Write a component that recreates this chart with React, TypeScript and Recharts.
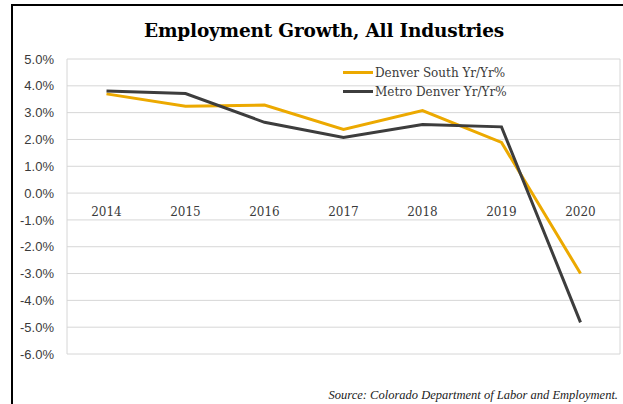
import { LineChart, Line, XAxis, YAxis, CartesianGrid } from "recharts";

const years = ["2014", "2015", "2016", "2017", "2018", "2019", "2020"];
const denverSouth = [3.7, 3.24, 3.28, 2.37, 3.08, 1.89, -3.0];
const metroDenver = [3.81, 3.71, 2.64, 2.07, 2.56, 2.47, -4.82];
const yTicks = [-6, -5, -4, -3, -2, -1, 0, 1, 2, 3, 4, 5];

const data = years.map((y, i) => ({
  year: y,
  south: denverSouth[i],
  metro: metroDenver[i],
}));

const W = 623;
const H = 404;
const X_AXIS_H = 30;
const M = { top: 59, right: 3, bottom: 50 - X_AXIS_H, left: 0 };
const Y_AXIS_W = 67;
const plotW = W - M.left - M.right - Y_AXIS_W;
const plotH = H - M.top - M.bottom - X_AXIS_H;
const zeroY = M.top + (5 / 11) * plotH;

const ORANGE = "#ECA900";
const DARK = "#3D3D3D";
const TEXT = "#3a3a3a";

const XTick = (props: any) => {
  const { x, payload } = props;
  return (
    <text
      x={x}
      y={zeroY + 23}
      textAnchor="middle"
      fontFamily="DejaVu Serif"
      fontSize={12}
      fill={TEXT}
    >
      {payload.value}
    </text>
  );
};

const legendItems = [
  { label: "Denver South Yr/Yr%", color: ORANGE },
  { label: "Metro Denver Yr/Yr%", color: DARK },
];

export default function App() {
  return (
    <div style={{ position: "absolute", left: 0, top: 0, width: W, height: H, background: "#fff", overflow: "hidden" }}>
      <div
        style={{
          position: "absolute",
          left: 11,
          top: 4,
          width: W,
          height: H,
          borderLeft: "2px solid #000",
          borderTop: "2px solid #000",
        }}
      />
      <div
        style={{
          position: "absolute",
          top: 20,
          left: 0,
          width: 648,
          textAlign: "center",
          fontFamily: "DejaVu Serif",
          fontWeight: "bold",
          fontSize: 18.5,
          color: "#000",
          letterSpacing: -0.2,
        }}
      >
        Employment Growth, All Industries
      </div>
      <LineChart width={W} height={H} data={data} margin={M} style={{ position: "absolute", left: 0, top: 0 }}>
        <CartesianGrid
          stroke="#d6d6d6"
          verticalCoordinatesGenerator={() => [Y_AXIS_W, Y_AXIS_W + plotW]}
        />
        <XAxis
          dataKey="year"
          axisLine={false}
          tickLine={false}
          height={X_AXIS_H}
          padding={{ left: plotW / 14, right: plotW / 14 }}
          tick={<XTick />}
          interval={0}
        />
        <YAxis
          width={Y_AXIS_W}
          domain={[-6, 5]}
          ticks={yTicks}
          axisLine={false}
          tickLine={false}
          tickSize={0}
          tickMargin={13}
          tickFormatter={(v: number) => `${v.toFixed(1)}%`}
          tick={{ fontFamily: "Liberation Sans", fontSize: 13, fill: TEXT }}
          allowDataOverflow
        />
        <Line type="linear" dataKey="south" stroke={ORANGE} strokeWidth={3} dot={false} isAnimationActive={false} />
        <Line type="linear" dataKey="metro" stroke={DARK} strokeWidth={3} dot={false} isAnimationActive={false} />
      </LineChart>
      <div style={{ position: "absolute", left: 343, top: 63 }}>
        {legendItems.map((it) => (
          <div key={it.label} style={{ display: "flex", alignItems: "center", height: 19 }}>
            <div style={{ width: 30, height: 3, background: it.color, marginRight: 2 }} />
            <span style={{ fontFamily: "DejaVu Serif", fontSize: 12, color: TEXT }}>{it.label}</span>
          </div>
        ))}
      </div>
      <div
        style={{
          position: "absolute",
          right: 5,
          top: 388,
          fontFamily: "Liberation Serif",
          fontStyle: "italic",
          fontSize: 12.5,
          color: "#222",
        }}
      >
        Source: Colorado Department of Labor and Employment.
      </div>
    </div>
  );
}
